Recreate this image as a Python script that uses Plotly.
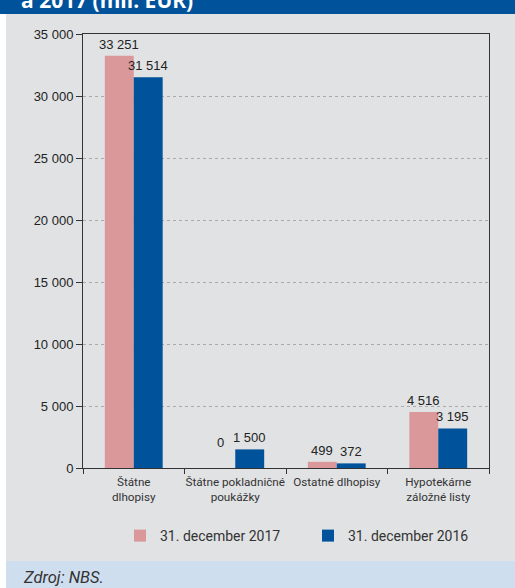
import plotly.graph_objects as go

categories = ["Štátne<br>dlhopisy", "Štátne pokladničné<br>poukážky", "Ostatné dlhopisy", "Hypotekárne<br>záložné listy"]
series_names = ["31. december 2017", "31. december 2016"]
values_2017 = [33251, 0, 499, 4516]
values_2016 = [31514, 1500, 372, 3195]
tick_vals = [0, 5000, 10000, 15000, 20000, 25000, 30000, 35000]
tick_text = ["0", "5 000", "10 000", "15 000", "20 000", "25 000", "30 000", "35 000"]
colors = ["#da989b", "#00529b"]

W, H = 515, 588
L, R, T, B = 83, 489, 34, 468
def px_x(x):
    return (x - L) / (R - L)
def px_y(y):
    return (B - y) / (B - T)

def fmt(v):
    return f"{v:,}".replace(",", " ")

fig = go.Figure()
for name, vals, col in zip(series_names, [values_2017, values_2016], colors):
    fig.add_trace(go.Bar(x=categories, y=vals, name=name, marker=dict(color=col, line=dict(width=0))))

annotations = []
for si, vals in enumerate([values_2017, values_2016]):
    for ci, v in enumerate(vals):
        annotations.append(dict(
            x=ci + (-0.145 if si == 0 else 0.145), y=v, xref="x", yref="y",
            text=fmt(v), showarrow=False, yanchor="bottom",
            yshift=16 if v == 0 else 2,
            font=dict(family="Liberation Sans, Arial", size=13, color="#222"),
        ))

annotations.append(dict(
    x=px_x(19), y=px_y(16), xref="paper", yref="paper", xanchor="left", yanchor="bottom",
    text="<b>a 2017 (mil. EUR)</b>", showarrow=False,
    font=dict(family="Open Sans", size=21, color="white"),
))
annotations.append(dict(
    x=px_x(21), y=px_y(577), xref="paper", yref="paper", xanchor="left", yanchor="middle",
    text="<i>Zdroj: NBS.</i>", showarrow=False,
    font=dict(family="Roboto", size=16.5, color="#333"),
))

shapes = [
    dict(type="rect", xref="paper", yref="paper", x0=px_x(0), x1=px_x(W), y0=px_y(0), y1=px_y(14),
         fillcolor="#00529b", line=dict(width=0), layer="below"),
    dict(type="rect", xref="paper", yref="paper", x0=px_x(0), x1=px_x(6), y0=px_y(14), y1=px_y(H),
         fillcolor="white", line=dict(width=0), layer="below"),
    dict(type="rect", xref="paper", yref="paper", x0=px_x(6), x1=px_x(W), y0=px_y(561), y1=px_y(H),
         fillcolor="#cfdeee", line=dict(width=0), layer="below"),
]

fig.update_layout(
    width=W, height=H,
    margin=dict(l=L, r=W - R, t=T, b=H - B, pad=0, autoexpand=False),
    paper_bgcolor="#e1e2e4", plot_bgcolor="#e1e2e4",
    barmode="group", bargap=0.43, bargroupgap=0,
    showlegend=True,
    legend=dict(orientation="h", x=px_x(120), xanchor="left", y=px_y(536), yanchor="middle",
                font=dict(family="Roboto", size=14, color="#333"),
                bgcolor="rgba(0,0,0,0)", itemwidth=30, traceorder="normal",
                entrywidth=143, entrywidthmode="pixels"),
    annotations=annotations,
    shapes=shapes,
    font=dict(family="Liberation Sans, Arial", color="#333"),
)
fig.update_xaxes(
    showline=True, linecolor="#333", linewidth=1, mirror=True,
    ticks="outside", tickson="boundaries", ticklen=5, tickcolor="#333",
    tickfont=dict(family="Roboto", size=11.7, color="#333"),
    tickangle=0, automargin=False, ticklabelstandoff=3,
    showgrid=False, fixedrange=True,
)
fig.update_yaxes(
    range=[0, 35000], tickvals=tick_vals, ticktext=tick_text,
    showline=True, linecolor="#333", linewidth=1, mirror=True,
    ticks="outside", ticklen=6, tickcolor="#333",
    tickfont=dict(family="Liberation Sans, Arial", size=13, color="#222"),
    showgrid=True, gridcolor="#aaa", griddash="dot", gridwidth=1,
    zeroline=False, automargin=False,
)

fig.write_html("out.html", config={"displayModeBar": False},
               post_script="document.body.style.margin='0';document.body.style.overflow='hidden';")
